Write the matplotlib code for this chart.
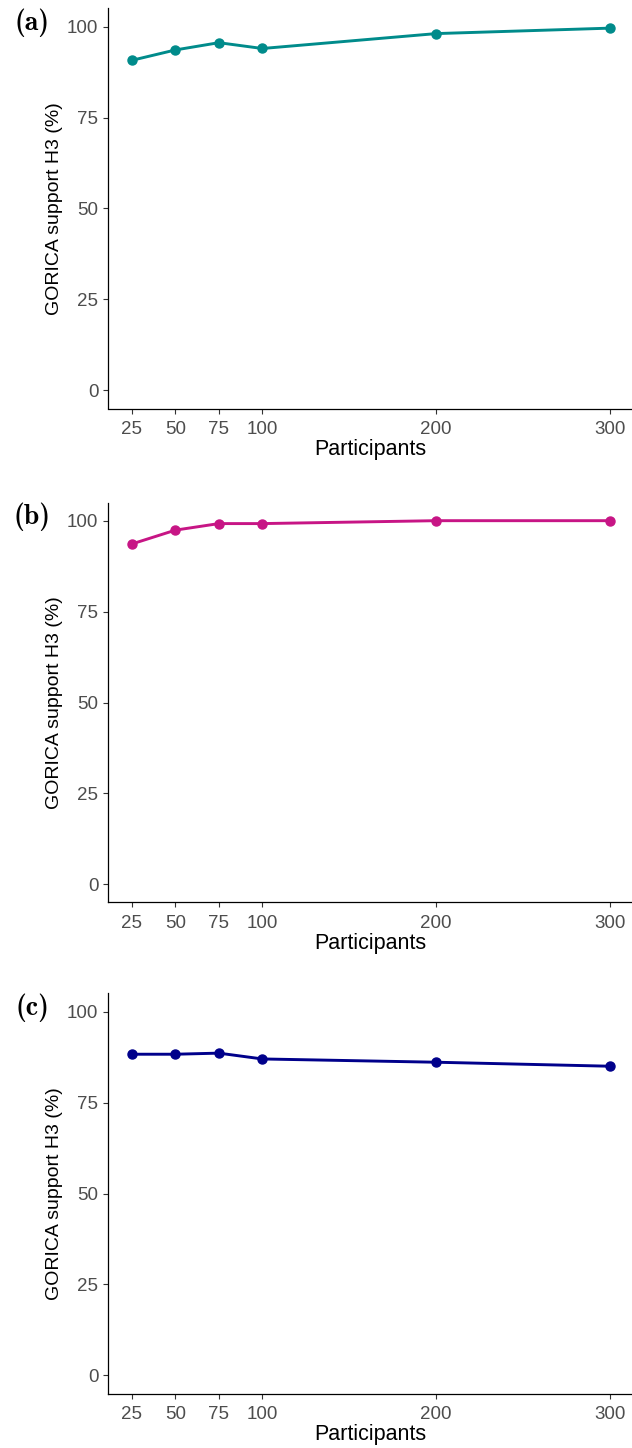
import matplotlib
matplotlib.use("Agg")
import matplotlib.pyplot as plt

participants = [25, 50, 75, 100, 200, 300]
support_a = [90.75, 93.6, 95.6, 94.0, 98.1, 99.6]
support_b = [93.6, 97.4, 99.2, 99.2, 100.0, 100.0]
support_c = [88.3, 88.3, 88.6, 87.0, 86.1, 85.0]
panel_labels = ["(a)", "(b)", "(c)"]
colors = ["#008B8B", "#C71585", "#00008B"]
xticks = [25, 50, 75, 100, 200, 300]
yticks = [0, 25, 50, 75, 100]
xlabel = "Participants"
ylabel = "GORICA support H3 (%)"

W, H = 632, 1448
fig = plt.figure(figsize=(W / 100, H / 100), dpi=100)
plt.rcParams['font.family'] = ['Liberation Sans', 'DejaVu Sans']

left_px = 108
tops_px = [8.5, 502.5, 993.5]
height_px = 400

for series, lab, col, top in zip([support_a, support_b, support_c], panel_labels, colors, tops_px):
    ax = fig.add_axes([left_px / W, 1 - (top + height_px) / H, (W - left_px) / W, height_px / H])
    ax.plot(participants, series, color=col, lw=2.1, marker='o', ms=6.5,
            solid_capstyle='butt', clip_on=False)
    ax.set_xlim(11.25, 312.6)
    ax.set_ylim(-5, 105)
    ax.set_xticks(xticks)
    ax.set_yticks(yticks)
    for s in ['top', 'right']:
        ax.spines[s].set_visible(False)
    for s in ['left', 'bottom']:
        ax.spines[s].set_linewidth(0.9)
        ax.spines[s].set_color('black')
    ax.tick_params(axis='both', length=3.5, width=0.8, color='#333333',
                   labelcolor='#4D4D4D', labelsize=13.5)
    ax.tick_params(axis='x', pad=5.5)
    ax.tick_params(axis='y', pad=3.5)
    ax.set_xlabel(xlabel, fontsize=15.5, color='black', labelpad=1.0)
    ax.set_ylabel(ylabel, fontsize=14, color='black', labelpad=3)
    fig.text(32 / W, 1 - (top + 14) / H, lab, fontsize=20, fontweight='bold',
             family=['cmb10', 'DejaVu Serif'], ha='center', va='center')

fig.savefig("out.png", dpi=100)
